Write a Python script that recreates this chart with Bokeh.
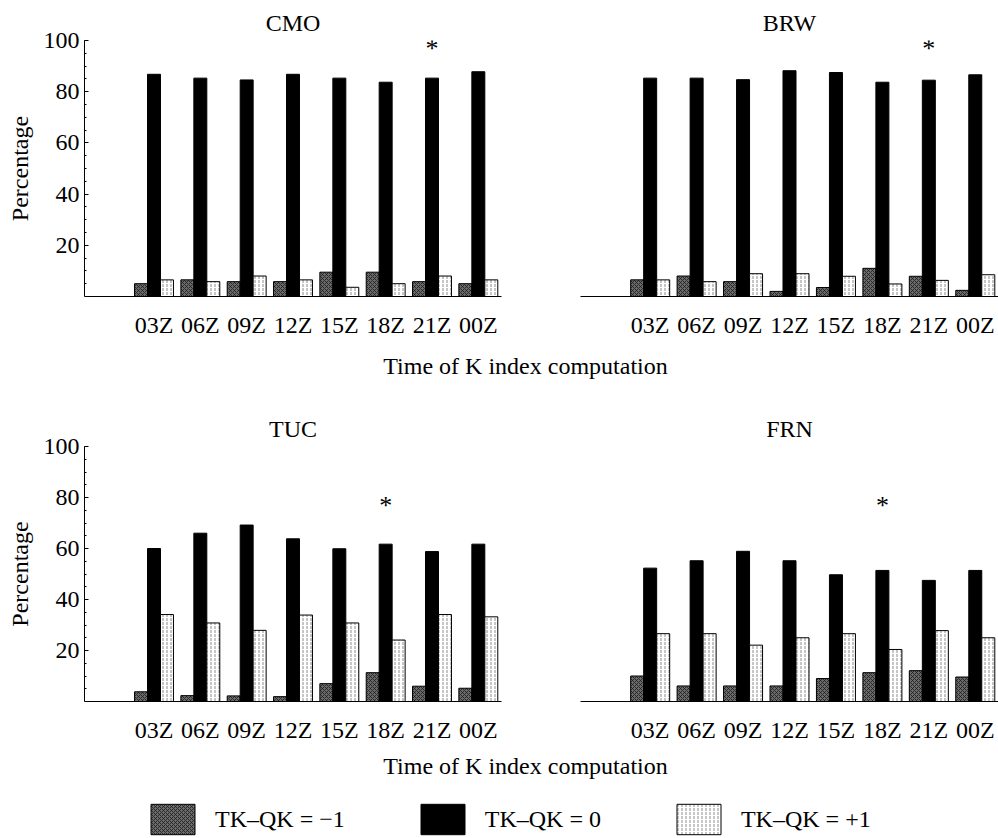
from bokeh.plotting import figure
from bokeh.models import FactorRange, Range1d, FixedTicker, ColumnDataSource, Legend, LegendItem, Label
from bokeh.transform import dodge
from bokeh.layouts import column, row
from bokeh.embed import file_html
from bokeh.resources import INLINE
from bokeh.core.properties import value

FONT = "Liberation Serif"

times = ["03Z", "06Z", "09Z", "12Z", "15Z", "18Z", "21Z", "00Z"]
stations = ["CMO", "BRW", "TUC", "FRN"]
legend_labels = ["TK\u2013QK = \u22121", "TK\u2013QK = 0", "TK\u2013QK = +1"]

# percentages for TK-QK = -1, 0, +1
cmo_m1 = [5.0, 6.5, 5.8, 5.8, 9.5, 9.5, 5.8, 5.0]
cmo_0 = [86.8, 85.3, 84.6, 86.8, 85.3, 83.7, 85.3, 87.8]
cmo_p1 = [6.5, 5.8, 8.0, 6.5, 3.6, 5.0, 8.0, 6.5]

brw_m1 = [6.5, 8.0, 5.8, 2.0, 3.5, 11.0, 7.9, 2.4]
brw_0 = [85.3, 85.3, 84.7, 88.2, 87.5, 83.7, 84.5, 86.6]
brw_p1 = [6.5, 5.8, 8.9, 8.9, 7.9, 4.9, 6.3, 8.5]

tuc_m1 = [3.8, 2.3, 2.2, 1.9, 7.0, 11.3, 6.0, 5.2]
tuc_0 = [60.0, 66.0, 69.2, 63.8, 59.9, 61.7, 58.8, 61.7]
tuc_p1 = [34.1, 30.8, 27.9, 33.9, 30.8, 24.1, 34.1, 33.2]

frn_m1 = [10.0, 6.1, 6.1, 6.1, 9.0, 11.3, 12.1, 9.6]
frn_0 = [52.3, 55.2, 58.9, 55.2, 49.7, 51.4, 47.5, 51.4]
frn_p1 = [26.6, 26.6, 22.1, 25.0, 26.6, 20.4, 27.8, 25.0]

star_times = ["21Z", "21Z", "18Z", "18Z"]
star_heights = [97, 97, 77, 77]

DARK = dict(fill_color="#6a6a6a", hatch_pattern="x", hatch_color="#1a1a1a",
            hatch_scale=4, hatch_weight=0.8, line_color="black", line_width=1)
BLACK = dict(fill_color="black", line_color="black", line_width=1)
LIGHT = dict(fill_color="white", hatch_pattern=":", hatch_color="#8c8c8c",
             hatch_scale=4, hatch_weight=1, line_color="black", line_width=1)

BW = 0.28
FACTORS = [" "] + times


def panel(name, m1, z, p1, star_t, star_h, width, height, left, right, top, bottom, show_y):
    p = figure(width=width, height=height, x_range=FactorRange(factors=FACTORS),
               y_range=Range1d(0, 100), output_backend="svg", toolbar_location=None,
               min_border_left=left, min_border_right=right, min_border_top=top,
               min_border_bottom=bottom, title=name)
    p.outline_line_color = None
    p.grid.visible = False
    p.title.align = "center"
    p.title.text_font = FONT
    p.title.text_font_size = "24px"
    p.title.text_font_style = "normal"
    p.title.text_color = "black"
    p.title.standoff = 9
    src = ColumnDataSource(dict(time=times, m1=m1, z=z, p1=p1))
    p.vbar(x=dodge("time", -BW, range=p.x_range), top="m1", width=BW, source=src, **DARK)
    p.vbar(x=dodge("time", 0, range=p.x_range), top="z", width=BW, source=src, **BLACK)
    p.vbar(x=dodge("time", BW, range=p.x_range), top="p1", width=BW, source=src, **LIGHT)
    # factor centre in the categorical range's synthetic coordinates
    star_x = FACTORS.index(star_t) + 0.5
    p.add_layout(Label(x=star_x, y=star_h, text="*", text_font=FONT, text_font_size="26px",
                       text_align="center", text_baseline="middle", text_color="black"))

    xa = p.xaxis[0]
    xa.major_tick_line_color = None
    xa.minor_tick_line_color = None
    xa.axis_line_color = "black"
    xa.major_label_text_font = FONT
    xa.major_label_text_font_size = "24px"
    xa.major_label_standoff = 9
    xa.major_label_text_color = "black"

    ya = p.yaxis[0]
    if show_y:
        ya.ticker = FixedTicker(ticks=[20, 40, 60, 80, 100], minor_ticks=list(range(5, 101, 5)))
        ya.major_tick_in = 4
        ya.major_tick_out = 0
        ya.minor_tick_in = 2
        ya.minor_tick_out = 0
        ya.axis_line_color = "black"
        ya.major_tick_line_color = "black"
        ya.minor_tick_line_color = "black"
        ya.major_label_text_font = FONT
        ya.major_label_text_font_size = "24px"
        ya.major_label_text_color = "black"
        ya.major_label_standoff = 5
        ya.axis_label = "Percentage"
        ya.axis_label_text_font = FONT
        ya.axis_label_text_font_size = "24px"
        ya.axis_label_text_font_style = "normal"
        ya.axis_label_text_color = "black"
        ya.axis_label_standoff = 8
    else:
        ya.visible = False
    return p


def text_fig(height, txt, y):
    f = figure(width=998, height=height, x_range=Range1d(0, 998), y_range=Range1d(0, height),
               x_axis_type=None, y_axis_type=None, output_backend="svg", toolbar_location=None,
               min_border=0)
    f.outline_line_color = None
    f.grid.visible = False
    f.text(x=[525], y=[y], text=[txt], text_font=value(FONT), text_font_size="24px",
           text_align="center", text_baseline="middle", text_color="black")
    return f


p1 = panel("CMO", cmo_m1, cmo_0, cmo_p1, star_times[0], star_heights[0], 502, 340, 84, 1, 40, 35, True)
p2 = panel("BRW", brw_m1, brw_0, brw_p1, star_times[1], star_heights[1], 496, 340, 78, 0, 40, 35, False)
p3 = panel("TUC", tuc_m1, tuc_0, tuc_p1, star_times[2], star_heights[2], 502, 355, 84, 1, 56, 37, True)
p4 = panel("FRN", frn_m1, frn_0, frn_p1, star_times[3], star_heights[3], 496, 355, 78, 0, 56, 37, False)

lab1 = text_fig(50, "Time of K index computation", 25)
lab2 = text_fig(45, "Time of K index computation", 25)

# legend-only figure; sample bars lie outside its visible range
lf = figure(width=998, height=48, x_range=Range1d(0, 1), y_range=Range1d(0, 1),
            x_axis_type=None, y_axis_type=None, output_backend="svg", toolbar_location=None,
            min_border=0)
lf.outline_line_color = None
lf.grid.visible = False
r1 = lf.vbar(x=[5], bottom=[5], top=[6], width=0.1, **DARK)
r2 = lf.vbar(x=[5], bottom=[5], top=[6], width=0.1, **BLACK)
r3 = lf.vbar(x=[5], bottom=[5], top=[6], width=0.1, **LIGHT)
leg = Legend(items=[LegendItem(label=legend_labels[0], renderers=[r1]),
                    LegendItem(label=legend_labels[1], renderers=[r2]),
                    LegendItem(label=legend_labels[2], renderers=[r3])],
             orientation="horizontal", location=(145, 0), glyph_width=55, glyph_height=38,
             label_standoff=15, spacing=70, padding=0, margin=0, border_line_color=None,
             background_fill_alpha=0, label_text_font=FONT, label_text_font_size="24px",
             label_text_color="black")
lf.add_layout(leg, "center")

layout = column(row(p1, p2), lab1, row(p3, p4), lab2, lf)

open("out.html", "w").write(file_html(layout, INLINE))
